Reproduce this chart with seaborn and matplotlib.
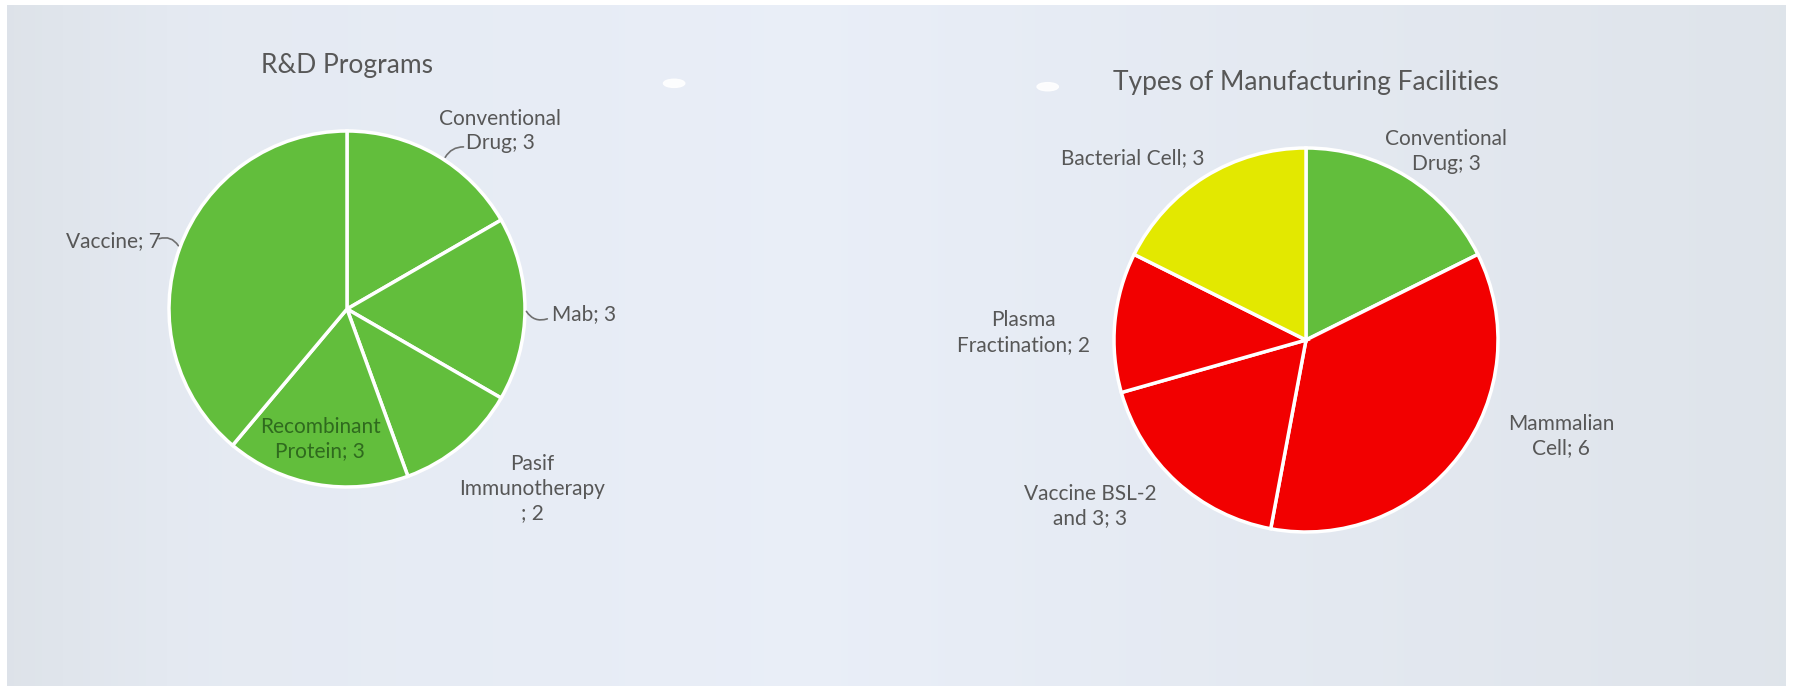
import numpy as np
import matplotlib
matplotlib.use("Agg")
import matplotlib.pyplot as plt
from matplotlib.patches import Ellipse
import seaborn as sns

# data
rd_labels = ["Conventional\nDrug; 3", "Mab; 3", "Pasif\nImmunotherapy\n; 2",
             "Recombinant\nProtein; 3", "Vaccine; 7"]
rd_values = [3, 3, 2, 3, 7]

mf_labels = ["Conventional\nDrug; 3", "Mammalian\nCell; 6", "Vaccine BSL-2\nand 3; 3",
             "Plasma\nFractination; 2", "Bacterial Cell; 3"]
mf_values = [3, 6, 3, 2, 3]

GREEN = "#62BE3C"
RED = "#F20000"
YELLOW = "#E3E800"
rd_colors = [GREEN] * 5
mf_colors = [GREEN, RED, RED, RED, YELLOW]

sns.set_theme(style="white")
plt.rcParams["font.family"] = ["Lato", "DejaVu Sans"]

W, H = 1797, 691
fig = plt.figure(figsize=(W / 100, H / 100), dpi=100)
fig.patch.set_facecolor("white")

# screen background (slight horizontal shading like the photo)
bg = fig.add_axes([7 / W, 5 / H, (W - 18) / W, (H - 10) / H])
grad = np.linspace(0, 1, 256)
shade = np.interp(grad, [0, 0.1, 0.45, 0.75, 1], [0.0, 0.6, 1.0, 0.5, 0.1])
c0 = np.array([0.870, 0.890, 0.915])
c1 = np.array([0.915, 0.935, 0.972])
img = c0[None, :] + (c1 - c0)[None, :] * shade[:, None]
bg.imshow(img[None, :, :], aspect="auto", extent=[0, 1, 0, 1])
# light reflections on the screen
for ex, ey in [(0.375, 0.885), (0.585, 0.88)]:
    bg.add_patch(Ellipse((ex, ey), 0.012, 0.012, color="white", alpha=0.9))
bg.set_xlim(0, 1)
bg.set_ylim(0, 1)
bg.set_axis_off()

TXT = "#575757"


def make_pie(cx, cy, r, half, values, colors, labels, pos, leaders, inside, title, title_y):
    ax = fig.add_axes([(cx - half) / W, (cy - half) / H, 2 * half / W, 2 * half / H])
    lim = half / r
    wedges, _ = ax.pie(values, colors=colors, startangle=90, counterclock=False,
                       radius=1, wedgeprops=dict(edgecolor="white", linewidth=2.5))
    ax.set_xlim(-lim, lim)
    ax.set_ylim(-lim, lim)
    ax.set_aspect("equal")
    ax.set_axis_off()
    for i, (w, lab) in enumerate(zip(wedges, labels)):
        tx, ty = pos[i]
        color = "#2F6A1E" if i in inside else TXT
        if leaders.get(i) is not None:
            shift, start, rad = leaders[i]
            ang = np.deg2rad((w.theta1 + w.theta2) / 2 + shift)
            ex, ey = np.cos(ang), np.sin(ang)
            ax.annotate("", xy=(ex, ey), xytext=start,
                        arrowprops=dict(arrowstyle="-", color="#6F6F6F", lw=1.2,
                                        connectionstyle=f"arc3,rad={rad}"))
        ax.text(tx, ty, lab, ha="center", va="center", fontsize=15, color=color,
                linespacing=1.3)
    ax.text(0, title_y, title, ha="center", va="center", fontsize=19, color=TXT)
    return ax


# left pie: R&D Programs
make_pie(347, H - 309, 178, 300, rd_values, rd_colors, rd_labels,
         pos=[(0.86, 1.00), (1.33, -0.03), (1.04, -1.01), (-0.15, -0.73), (-1.31, 0.38)],
         leaders={0: (-3, (0.67, 0.91), 0.35),
                  1: (0, (1.14, -0.05), -0.45),
                  4: (0, (-1.07, 0.39), -0.45)},
         inside={3}, title="R&D Programs", title_y=1.37)

# right pie: Types of Manufacturing Facilities
make_pie(1306, H - 340, 192, 330, mf_values, mf_colors, mf_labels,
         pos=[(0.73, 0.98), (1.33, -0.50), (-1.125, -0.865), (-1.47, 0.04), (-0.90, 0.95)],
         leaders={}, inside=set(), title="Types of Manufacturing Facilities", title_y=1.34)

fig.savefig("out.png", dpi=100, facecolor=fig.get_facecolor())
